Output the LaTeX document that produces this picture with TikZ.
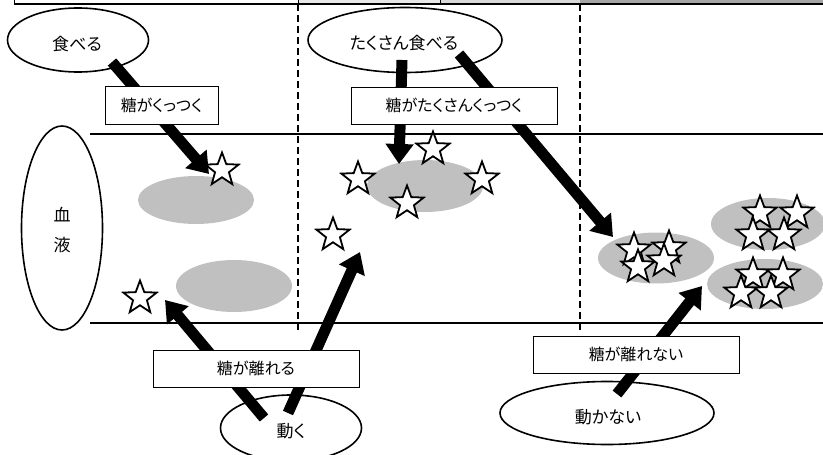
\documentclass[tikz,border=0pt]{standalone}
\usepackage{fontspec}
\setmainfont[RawFeature=+palt]{Noto Sans CJK JP}
\usetikzlibrary{arrows.meta,shapes.geometric}
\definecolor{blobgray}{HTML}{C0C0C0}
\definecolor{barA}{HTML}{E8E8E8}
\definecolor{barB}{HTML}{D8D8D8}
\definecolor{barC}{HTML}{A6A6A6}
\tikzset{
  bigarrow/.style={line width=11pt,-{Triangle[length=20pt,width=27pt]}},
  labelbox/.style={draw,line width=0.9pt,fill=white,inner sep=0pt,font=\fontsize{16}{18}\selectfont},
  bubble/.style={draw,line width=1.6pt,fill=white,ellipse,inner sep=0pt},
  bubbletext/.style={font=\fontsize{17}{19}\selectfont},
  blob/.style={fill=blobgray,ellipse,inner sep=0pt},
  starmark/.style={star,star points=5,star point ratio=2.4,minimum size=35pt,inner sep=0pt,draw,fill=white,line width=1.8pt},
  rule/.style={line width=1.8pt},
  divider/.style={line width=2.2pt,dash pattern=on 7pt off 4pt},
}
\begin{document}
\begin{tikzpicture}[x=1pt,y=-1pt]
\useasboundingbox (0,0) rectangle (823,455);
\clip (0,0) rectangle (823,455);
% top bar
\fill[barA] (298,-10) rectangle (440,4);
\fill[barB] (440,-10) rectangle (580,4);
\fill[barC] (580,-10) rectangle (823,4);
\draw[line width=1pt,fill=white] (14,-10) rectangle (298,4);
\draw[line width=1pt] (440,-10) -- (440,4);
\draw[line width=1.2pt] (14,4) -- (823,4);
% horizontal rules
\draw[rule] (90,134) -- (823,134);
\draw[rule] (90,323) -- (823,323);
% dashed dividers
\draw[divider] (298,4) -- (298,331);
\draw[divider] (580,4) -- (580,333);
% blobs
\node[blob,minimum width=116pt,minimum height=48pt] (b1) at (196,200) {};
\node[blob,minimum width=116pt,minimum height=52pt] (b2) at (234,286) {};
\node[blob,minimum width=116pt,minimum height=52pt] (b3) at (425,186) {};
\node[blob,minimum width=116pt,minimum height=51pt] (b4) at (656,258) {};
\node[blob,minimum width=114pt,minimum height=52pt] (b5) at (768,224) {};
\node[blob,minimum width=116pt,minimum height=50pt] (b6) at (765,284) {};
% bubbles
\node[bubble,minimum width=141pt,minimum height=64pt] (eat) at (78,40) {};
\node[bubbletext] at (77,44) (eatT) {食べる};
\node[bubble,minimum width=194pt,minimum height=65pt] (eatmore) at (405,40) {};
\node[bubbletext] at (404,43) (eatmoreT) {たくさん食べる};
\node[bubble,minimum width=81pt,minimum height=204pt] (blood) at (62,228) {};
\node[bubbletext] at (62,215) (bloodA) {血};
\node[bubbletext] at (62,245) (bloodB) {液};
\node[bubble,minimum width=141pt,minimum height=66pt] (move) at (291,428) {};
\node[bubbletext] at (291,431) (moveT) {動く};
\node[bubble,minimum width=214pt,minimum height=63pt] (nomove) at (607,413) {};
\node[bubbletext] at (608,417) (nomoveT) {動かない};
% stars
\node[starmark] (s1) at (222,170) {};
\node[starmark] (s2) at (140,298) {};
\node[starmark] (s3) at (333,235) {};
\node[starmark] (s4) at (358,179) {};
\node[starmark] (s5) at (433,149) {};
\node[starmark] (s6) at (482,179) {};
\node[starmark] (s7) at (407,203) {};
\node[starmark] (s8) at (634,250) {};
\node[starmark] (s9) at (669,248) {};
\node[starmark] (s10) at (638,267) {};
\node[starmark] (s11) at (664,261) {};
\node[starmark] (s12) at (760,213) {};
\node[starmark] (s13) at (797,213) {};
\node[starmark] (s14) at (753,235) {};
\node[starmark] (s15) at (784,235) {};
\node[starmark] (s16) at (753,275) {};
\node[starmark] (s17) at (783,275) {};
\node[starmark] (s18) at (741,293) {};
\node[starmark] (s19) at (771,293) {};
% arrow end points
\coordinate (a1s) at (112,62);
\coordinate (a1e) at (209,174);
\coordinate (a2s) at (402,60);
\coordinate (a2e) at (399,164);
\coordinate (a3s) at (459,54);
\coordinate (a3e) at (613,237);
\coordinate (a4s) at (264,418);
\coordinate (a4e) at (165,300);
\coordinate (a5s) at (288,413);
\coordinate (a5e) at (360,252);
\coordinate (a6s) at (617,394);
\coordinate (a6e) at (702,286);
% arrows
\draw[bigarrow] (a1s) -- (a1e);
\draw[bigarrow] (a2s) -- (a2e);
\draw[bigarrow] (a3s) -- (a3e);
\draw[bigarrow] (a4s) -- (a4e);
\draw[bigarrow] (a5s) -- (a5e);
\draw[bigarrow] (a6s) -- (a6e);
% label boxes
\node[labelbox,minimum width=113pt,minimum height=38pt] (l1) at (161.5,105) {糖がくっつく};
\node[labelbox,minimum width=206pt,minimum height=37pt] (l2) at (454,105.5) {糖がたくさんくっつく};
\node[labelbox,minimum width=206pt,minimum height=37pt] (l3) at (256,368.5) {糖が離れる};
\node[labelbox,minimum width=206pt,minimum height=37pt] (l4) at (636,354.5) {糖が離れない};
\end{tikzpicture}
\end{document}
